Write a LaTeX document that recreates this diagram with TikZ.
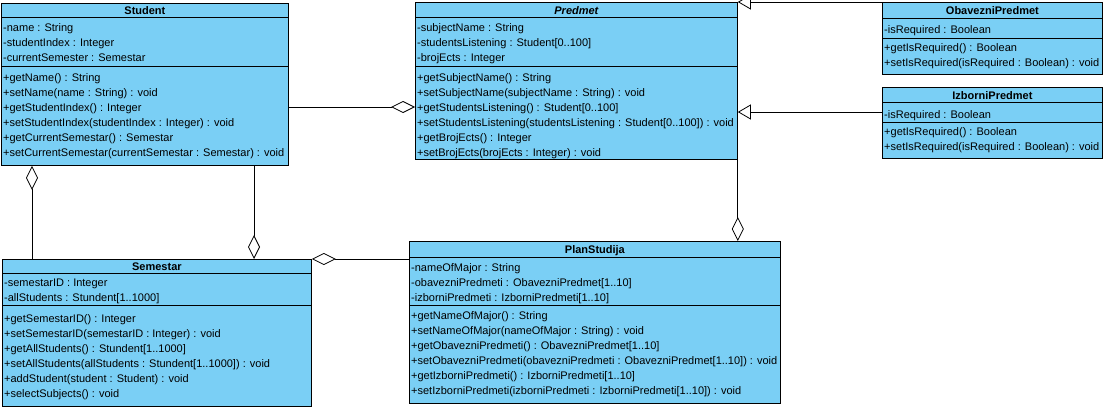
\documentclass[tikz,border=0pt]{standalone}
\usepackage{fontspec}
\setmainfont{Liberation Sans}
\usepackage{xcolor}
\usetikzlibrary{arrows.meta}
\definecolor{umlblue}{RGB}{122,207,245}

\tikzset{
  classbox/.style={draw=black,fill=umlblue,line width=0.8pt,anchor=north west,inner sep=0pt},
  classname/.style={anchor=base,inner sep=0pt,font=\fontsize{11}{15}\selectfont\bfseries},
  members/.style={anchor=north west,align=left,inner sep=0pt,font=\fontsize{11}{15}\selectfont,execute at begin node=\strut},
  aggr/.style={line width=0.8pt,-{Diamond[fill=white,length=24pt,width=12pt]}},
  gen/.style={line width=0.8pt,-{Triangle[open,length=13pt,width=15pt]}}
}

\begin{document}
\begin{tikzpicture}[x=1pt,y=-1pt]
            \clip (0,0) rectangle (1105,407);

            \node[classbox,minimum width=287pt,minimum height=162pt] (student) at (1,3) {};
            \node[classname] (studentName) at (student.north |- 0,14.5) {Student};
            \draw[line width=0.8pt] (student.west |- 0,17) -- (student.east |- 0,17);
            \draw[line width=0.8pt] (student.west |- 0,66) -- (student.east |- 0,66);
            \node[members] (studentAttr) at (3,23) {-name : String\\-studentIndex : Integer\\-currentSemester : Semestar};
            \node[members] (studentOps) at (3,73) {+getName() : String\\+setName(name : String) : void\\+getStudentIndex() : Integer\\+setStudentIndex(studentIndex : Integer) : void\\+getCurrentSemestar() : Semestar\\+setCurrentSemestar(currentSemestar : Semestar) : void};

            \node[classbox,minimum width=322pt,minimum height=157pt] (predmet) at (415,2) {};
            \node[classname,font=\fontsize{11}{15}\selectfont\bfseries\itshape] (predmetName) at (predmet.north |- 0,14.5) {Predmet};
            \draw[line width=0.8pt] (predmet.west |- 0,17) -- (predmet.east |- 0,17);
            \draw[line width=0.8pt] (predmet.west |- 0,66) -- (predmet.east |- 0,66);
            \node[members] (predmetAttr) at (417,23) {-subjectName : String\\-studentsListening : Student[0..100]\\-brojEcts : Integer};
            \node[members] (predmetOps) at (417,73) {+getSubjectName() : String\\+setSubjectName(subjectName : String) : void\\+getStudentsListening() : Student[0..100]\\+setStudentsListening(studentsListening : Student[0..100]) : void\\+getBrojEcts() : Integer\\+setBrojEcts(brojEcts : Integer) : void};

            \node[classbox,minimum width=220pt,minimum height=72pt] (obavezni) at (882,2) {};
            \node[classname] (obavezniName) at (obavezni.north |- 0,14) {ObavezniPredmet};
            \draw[line width=0.8pt] (obavezni.west |- 0,18) -- (obavezni.east |- 0,18);
            \draw[line width=0.8pt] (obavezni.west |- 0,38) -- (obavezni.east |- 0,38);
            \node[members] (obavezniAttr) at (884,23) {-isRequired : Boolean};
            \node[members] (obavezniOps) at (884,43) {+getIsRequired() : Boolean\\+setIsRequired(isRequired : Boolean) : void};

            \node[classbox,minimum width=220pt,minimum height=71pt] (izborni) at (882,87) {};
            \node[classname] (izborniName) at (izborni.north |- 0,99) {IzborniPredmet};
            \draw[line width=0.8pt] (izborni.west |- 0,102) -- (izborni.east |- 0,102);
            \draw[line width=0.8pt] (izborni.west |- 0,122) -- (izborni.east |- 0,122);
            \node[members] (izborniAttr) at (884,108) {-isRequired : Boolean};
            \node[members] (izborniOps) at (884,127) {+getIsRequired() : Boolean\\+setIsRequired(isRequired : Boolean) : void};

            \node[classbox,minimum width=309pt,minimum height=147pt] (semestar) at (2,259) {};
            \node[classname] (semestarName) at (semestar.north |- 0,270.5) {Semestar};
            \draw[line width=0.8pt] (semestar.west |- 0,273) -- (semestar.east |- 0,273);
            \draw[line width=0.8pt] (semestar.west |- 0,305) -- (semestar.east |- 0,305);
            \node[members] (semestarAttr) at (4,279) {-semestarID : Integer\\-allStudents : Stundent[1..1000]};
            \node[members] (semestarOps) at (4,314) {+getSemestarID() : Integer\\+setSemestarID(semestarID : Integer) : void\\+getAllStudents() : Stundent[1..1000]\\+setAllStudents(allStudents : Stundent[1..1000]) : void\\+addStudent(student : Student) : void\\+selectSubjects() : void};

            \node[classbox,minimum width=371pt,minimum height=162pt] (plan) at (409,241) {};
            \node[classname] (planName) at (plan.north |- 0,253) {PlanStudija};
            \draw[line width=0.8pt] (plan.west |- 0,257) -- (plan.east |- 0,257);
            \draw[line width=0.8pt] (plan.west |- 0,305) -- (plan.east |- 0,305);
            \node[members] (planAttr) at (411,263) {-nameOfMajor : String\\-obavezniPredmeti : ObavezniPredmet[1..10]\\-izborniPredmeti : IzborniPredmeti[1..10]};
            \node[members] (planOps) at (411,311) {+getNameOfMajor() : String\\+setNameOfMajor(nameOfMajor : String) : void\\+getObavezniPredmeti() : ObavezniPredmet[1..10]\\+setObavezniPredmeti(obavezniPredmeti : ObavezniPredmet[1..10]) : void\\+getIzborniPredmeti() : IzborniPredmeti[1..10]\\+setIzborniPredmeti(izborniPredmeti : IzborniPredmeti[1..10]) : void};

            \draw[aggr] (student.east |- 0,107) -- (predmet.west |- 0,107);
            \draw[aggr] (semestar.north -| 32,0) -- (student.south -| 32,0);
            \draw[aggr] (student.south -| 254,0) -- (semestar.north -| 254,0);
            \draw[aggr] (plan.west |- semestar.north east) -- (semestar.north east);
            \draw[aggr] (predmet.south east) -- (plan.north -| predmet.south east);
            \draw[gen] (obavezni.west |- 0,2) -- (predmet.east |- 0,2);
            \draw[gen] (izborni.west |- 0,112) -- (predmet.east |- 0,112);
        \end{tikzpicture}
\end{document}
